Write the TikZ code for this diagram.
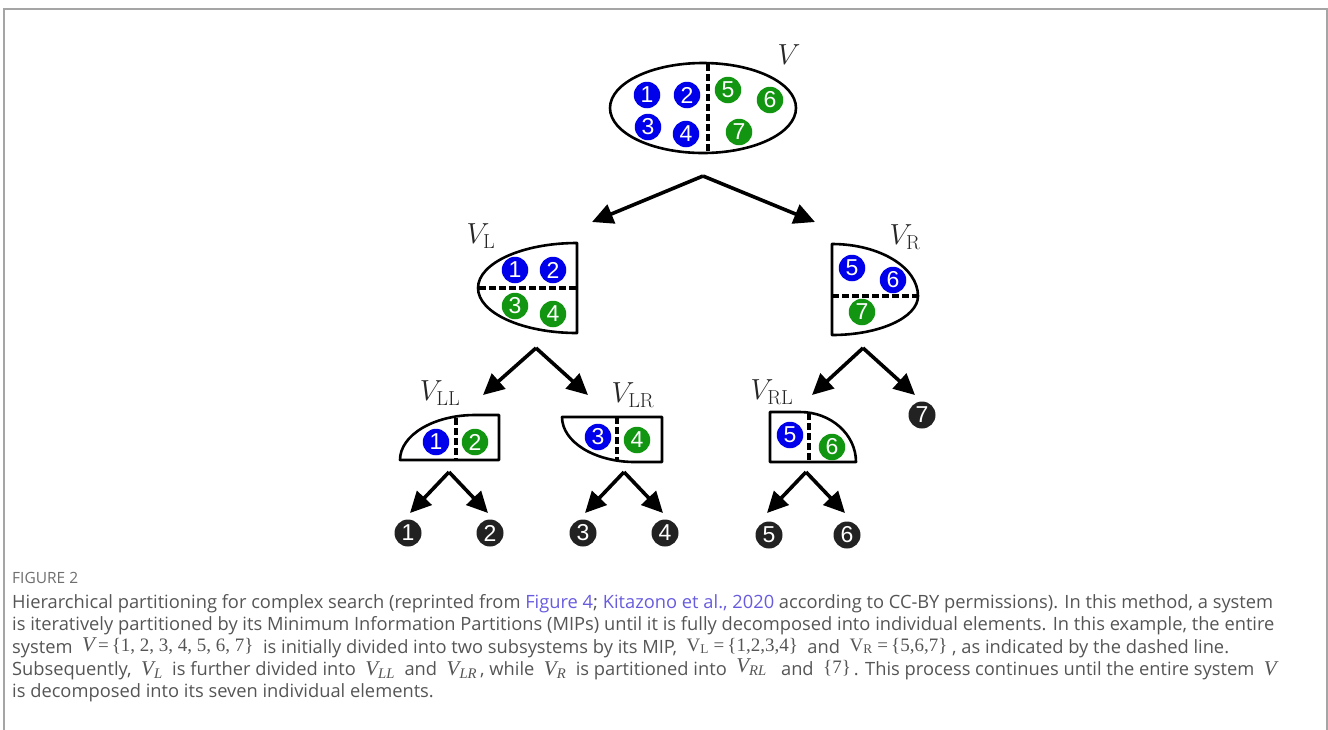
\documentclass[tikz,border=0pt]{standalone}
\usepackage{fix-cm}
\usepackage[no-math]{fontspec}
\usetikzlibrary{arrows.meta}
\setmainfont{Open Sans}
\newfontfamily\digitfont{Liberation Sans}
\newfontfamily\capserif{Liberation Serif}
\definecolor{ballblue}{RGB}{0,0,235}
\definecolor{ballgreen}{RGB}{18,150,18}
\definecolor{ballblack}{RGB}{34,34,34}
\definecolor{captext}{RGB}{85,85,85}
\definecolor{caplink}{RGB}{104,92,222}
\definecolor{framegray}{RGB}{165,165,165}
\newcommand{\capvar}[1]{{\capserif\itshape\fontsize{21}{22}\selectfont #1}}
\newcommand{\capset}[1]{{\capserif\fontsize{19}{22}\selectfont\{#1\}}}
\newcommand{\caproman}[1]{{\capserif\fontsize{19}{22}\selectfont #1}}
\tikzset{
	ball/.style={circle, inner sep=0pt, minimum size=26.5pt, text=white,
		font=\digitfont\fontsize{23}{23}\selectfont},
	blueball/.style={ball, fill=ballblue},
	greenball/.style={ball, fill=ballgreen},
	blackball/.style={ball, fill=ballblack, minimum size=27pt},
	part/.style={line width=2.6pt, line join=round},
	cut/.style={line width=3.2pt, dash pattern=on 6.5pt off 3.5pt},
	split/.style={line width=3.6pt, -{Triangle[length=21pt, width=20pt]}},
	setname/.style={inner sep=0pt, text=black!85, font=\fontsize{29}{32}\selectfont},
	capline/.style={anchor=base west, inner sep=0pt, text=captext,
		font=\fontsize{18.3}{22}\selectfont},
}
\begin{document}
\begin{tikzpicture}[x=1pt, y=-1pt]
	\useasboundingbox (0,0) rectangle (1328,729);
	\draw[framegray, line width=1.6pt] (4,740) -- (4,9) -- (1327,9) -- (1327,740);

	% whole system V
	\draw[part] (703,108) ellipse [x radius=93, y radius=45];
	\draw[cut] (708,64) -- (708,152);
	\node[blueball] (v1) at (647,95) {1};
	\node[blueball] (v2) at (687,95) {2};
	\node[blueball] (v3) at (648,127) {3};
	\node[blueball] (v4) at (686,134) {4};
	\node[greenball] (v5) at (728,90) {5};
	\node[greenball] (v6) at (770,100) {6};
	\node[greenball] (v7) at (739,132) {7};
	\node[setname] (V) at (789,55) {$V$};

	% first cut
	\coordinate (vTop) at (703,176);
	\coordinate (vlEnd) at (592,222);
	\coordinate (vrEnd) at (815,222);
	\draw[split] (vTop) -- (vlEnd);
	\draw[split] (vTop) -- (vrEnd);

	% left half V_L
	\draw[part] (577,333) -- (577,243) arc[start angle=270, end angle=90, x radius=99, y radius=45] -- cycle;
	\draw[cut] (479,288) -- (577,288);
	\node[blueball] (l1) at (515,270) {1};
	\node[blueball] (l2) at (553,270) {2};
	\node[greenball] (l3) at (515,306) {3};
	\node[greenball] (l4) at (553,314) {4};
	\node[setname] (VL) at (481,236) {$V_{\mathrm{L}}$};

	% right half V_R
	\draw[part] (832,335) -- (832,244) arc[start angle=270, end angle=360, x radius=86, y radius=52]
		arc[start angle=0, end angle=90, x radius=86, y radius=39] -- cycle;
	\draw[cut] (832,296) -- (917,296);
	\node[blueball] (r5) at (852,268) {5};
	\node[blueball] (r6) at (893,280) {6};
	\node[greenball] (r7) at (862,312) {7};
	\node[setname] (VR) at (905,237) {$V_{\mathrm{R}}$};

	% second cuts
	\coordinate (vlTop) at (536,348);
	\coordinate (vllEnd) at (483,395);
	\coordinate (vlrEnd) at (588,395);
	\draw[split] (vlTop) -- (vllEnd);
	\draw[split] (vlTop) -- (vlrEnd);
	\coordinate (vrTop) at (863,348);
	\coordinate (vrlEnd) at (812,395);
	\coordinate (sevenEnd) at (915,395);
	\draw[split] (vrTop) -- (vrlEnd);
	\draw[split] (vrTop) -- (sevenEnd);

	% V_LL
	\draw[part] (400,460) arc[start angle=180, end angle=270, x radius=75, y radius=45] -- (499,415) -- (499,460) -- cycle;
	\draw[cut] (456,418) -- (456,460);
	\node[blueball] (ll1) at (436,442) {1};
	\node[greenball] (ll2) at (475,442) {2};
	\node[setname] (VLL) at (440,393) {$V_{\mathrm{LL}}$};

	% V_LR
	\draw[part] (562,417) -- (662,417) -- (662,462) -- (635,462) arc[start angle=90, end angle=180, x radius=73, y radius=45] -- cycle;
	\draw[cut] (617,417) -- (617,460);
	\node[blueball] (lr3) at (598,437) {3};
	\node[greenball] (lr4) at (637,440) {4};
	\node[setname] (VLR) at (633,395) {$V_{\mathrm{LR}}$};

	% V_RL
	\draw[part] (770,462) -- (770,412) -- (800,412) arc[start angle=270, end angle=360, x radius=56, y radius=50] -- cycle;
	\draw[cut] (809,413) -- (809,462);
	\node[blueball] (rl5) at (790,435) {5};
	\node[greenball] (rl6) at (832,447) {6};
	\node[setname] (VRL) at (772,392) {$V_{\mathrm{RL}}$};
	\node[blackball] (e7) at (922,415) {7};

	% last cuts down to single elements
	\coordinate (llTop) at (449,472);
	\coordinate (lrTop) at (624,472);
	\coordinate (rlTop) at (806,472);
	\node[blackball] (e1) at (408,533) {1};
	\node[blackball] (e2) at (490,533) {2};
	\node[blackball] (e3) at (583,533) {3};
	\node[blackball] (e4) at (665,533) {4};
	\node[blackball] (e5) at (769,535) {5};
	\node[blackball] (e6) at (847,535) {6};
	\coordinate (e1End) at (410,513);
	\coordinate (e2End) at (488,513);
	\coordinate (e3End) at (585,513);
	\coordinate (e4End) at (663,513);
	\coordinate (e5End) at (767,513);
	\coordinate (e6End) at (845,513);
	\draw[split] (llTop) -- (e1End);
	\draw[split] (llTop) -- (e2End);
	\draw[split] (lrTop) -- (e3End);
	\draw[split] (lrTop) -- (e4End);
	\draw[split] (rlTop) -- (e5End);
	\draw[split] (rlTop) -- (e6End);

	% caption
	\node[capline, text=captext!85, font=\fontsize{15.5}{18}\selectfont] (fig) at (12,583) {FIGURE 2};
	\node[capline] (cap1) at (12,608) {Hierarchical partitioning for complex search (reprinted from \textcolor{caplink}{Figure 4}; \textcolor{caplink}{Kitazono et al., 2020} according to CC-BY permissions). In this method, a system};
	\node[capline] (cap2) at (12,630) {is iteratively partitioned by its Minimum Information Partitions (MIPs) until it is fully decomposed into individual elements. In this example, the entire};
	\node[capline] (cap3) at (12,653) {system\ \ \raisebox{2pt}{\capvar{V}\,\caproman{=}\,\capset{1, 2, 3, 4, 5, 6, 7}}\ \ is initially divided into two subsystems by its MIP,\ \ \raisebox{2pt}{\caproman{V\textsubscript{L} =}\,\capset{1,2,3,4}}\ \ and\ \ \raisebox{2pt}{\caproman{V\textsubscript{R} =}\,\capset{5,6,7}}\ , as indicated by the dashed line.};
	\node[capline] (cap4) at (12,675) {Subsequently,\ \ \capvar{V\textsubscript{L}}\ \ is further divided into\ \ \capvar{V\textsubscript{LL}}\ \ and\ \ \capvar{V\textsubscript{LR}}\,, while\ \ \capvar{V\textsubscript{R}}\ \ is partitioned into\ \ \raisebox{3pt}{\capvar{V\textsubscript{RL}}}\ \ \ and\ \ \raisebox{2pt}{\capset{7}}\,. This process continues until the entire system\ \ \capvar{V}};
	\node[capline] (cap5) at (12,697) {is decomposed into its seven individual elements.};
\end{tikzpicture}
\end{document}
